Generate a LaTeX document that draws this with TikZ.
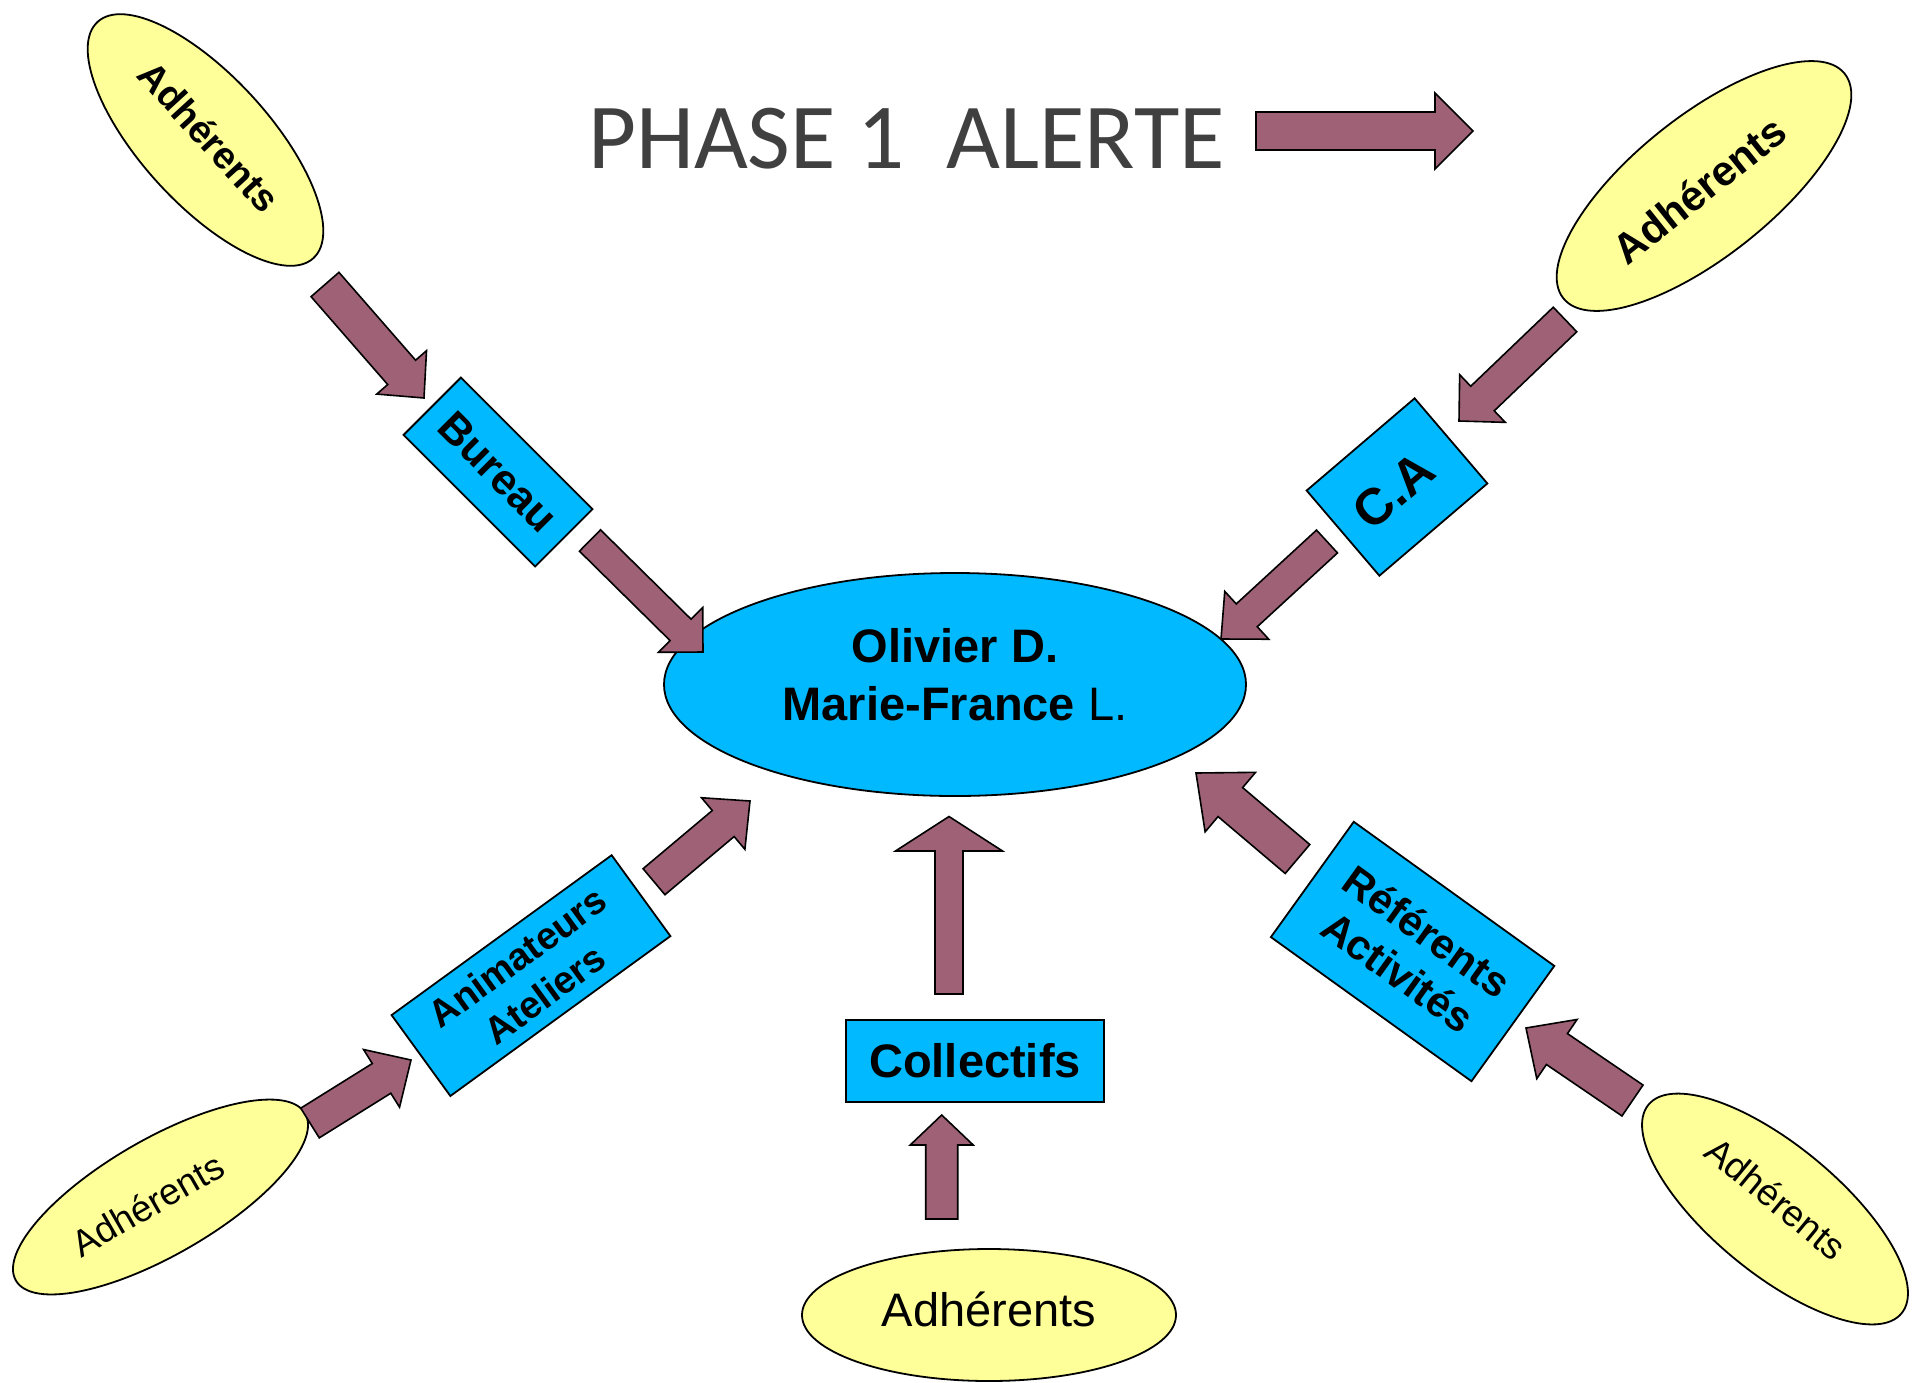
\documentclass[tikz,border=0pt]{standalone}
\usepackage{fontspec}
\setmainfont{Liberation Sans}
\newfontfamily\titlefont{Carlito}
\usetikzlibrary{shapes.geometric,calc}
\definecolor{arrowfill}{HTML}{9E6176}
\definecolor{boxblue}{HTML}{00B9FF}
\definecolor{adhyellow}{HTML}{FFFF99}
\definecolor{titlegray}{HTML}{404040}
\tikzset{
  adh/.style={ellipse, draw=black, line width=1.8pt, fill=adhyellow, inner sep=0pt},
  bluebox/.style={rectangle, draw=black, line width=1.8pt, fill=boxblue, inner sep=0pt, align=center},
  blockarrow/.style={draw=black, line width=1.6pt, fill=arrowfill, line join=miter},
}
% #1 tail, #2 tip, #3 shaft half width, #4 head half width, #5 head length
\newcommand{\blockarr}[5]{%
  \draw[blockarrow] ($(#1)!#3!90:(#2)$)
    -- ($(#2)!#5!(#1)!#3!90:(#2)$)
    -- ($(#2)!#5!(#1)!#4!90:(#2)$)
    -- (#2)
    -- ($(#2)!#5!(#1)!#4!-90:(#2)$)
    -- ($(#2)!#5!(#1)!#3!-90:(#2)$)
    -- ($(#1)!#3!-90:(#2)$) -- cycle;}
\begin{document}
\begin{tikzpicture}[x=1pt,y=-1pt]
\fill[white] (0,0) rectangle (1920,1382);
\useasboundingbox (0,0) rectangle (1920,1382);

% title
\node[anchor=base, text=titlegray, inner sep=0pt, font=\titlefont\fontsize{93}{112}\selectfont] (title) at (906.5,168) {PHASE 1~ ALERTE};

% centre
\node[ellipse, draw=black, line width=1.8pt, fill=boxblue, inner sep=0pt,
      minimum width=582pt, minimum height=223pt, align=center,
      font=\fontsize{47}{58}\selectfont] (leaders) at (955,684.5)
      {\textbf{Olivier D.}\\\textbf{Marie-France} L.\rule[-20pt]{0pt}{0pt}};

% adherents
\node[adh, minimum width=320pt, minimum height=128pt, rotate=-47.6,
      font=\bfseries\fontsize{38}{46}\selectfont] (adhTL) at (205.5,140) {Adhérents\rule[-10pt]{0pt}{0pt}};
\node[adh, minimum width=360pt, minimum height=140pt, rotate=38.6,
      font=\bfseries\fontsize{42}{50}\selectfont] (adhTR) at (1704,186) {Adhérents\hspace*{12pt}};
\node[adh, minimum width=334pt, minimum height=116pt, rotate=30,
      font=\fontsize{37}{44}\selectfont] (adhBL) at (160.5,1197) {Adhérents\hspace*{30pt}};
\node[adh, minimum width=328pt, minimum height=128pt, rotate=-39.5,
      font=\fontsize{37}{44}\selectfont] (adhBR) at (1775,1209) {Adhérents\hspace*{12pt}\rule[-18pt]{0pt}{0pt}};
\node[adh, minimum width=374pt, minimum height=132pt,
      font=\fontsize{47}{56}\selectfont] (adhB) at (989,1315) {Adhérents\rule[-12pt]{0pt}{0pt}};

% blue boxes
\node[bluebox, minimum width=186pt, minimum height=81pt, rotate=-45,
      font=\bfseries\fontsize{43}{52}\selectfont] (bureau) at (498,472) {Bureau};
\node[bluebox, minimum width=142pt, minimum height=112pt, rotate=40.5,
      font=\bfseries\fontsize{51}{60}\selectfont] (ca) at (1397,487) {C.A\hspace*{10pt}};
\node[bluebox, minimum width=272pt, minimum height=100pt, rotate=36,
      font=\bfseries\fontsize{38}{46}\selectfont] (anim) at (531,975.6) {Animateurs\\Ateliers};
\node[bluebox, minimum width=247pt, minimum height=142pt, rotate=-35.7,
      font=\bfseries\fontsize{42}{50}\selectfont] (ref) at (1412.6,951.5) {Référents\\Activités};
\node[bluebox, minimum width=258pt, minimum height=82pt,
      font=\bfseries\fontsize{47}{56}\selectfont] (coll) at (975,1061) {Collectifs};

% arrow end points
\coordinate (adhTL-out) at (325,284.5);   \coordinate (bureau-in) at (424,398);
\coordinate (bureau-out) at (590,540.5);  \coordinate (leaders-inTL) at (703,652);
\coordinate (adhTR-out) at (1565,319.5);  \coordinate (ca-in) at (1459,421);
\coordinate (ca-out) at (1327,541.5);     \coordinate (leaders-inTR) at (1221,639);
\coordinate (anim-out) at (654,881.7);    \coordinate (leaders-inBL) at (750,801);
\coordinate (adhBL-out) at (310,1123);    \coordinate (anim-in) at (411,1060);
\coordinate (ref-out) at (1297.5,859);    \coordinate (leaders-inBR) at (1196,773);
\coordinate (adhBR-out) at (1632.5,1100.5); \coordinate (ref-in) at (1526,1028);
\coordinate (coll-out) at (949,994);      \coordinate (leaders-inB) at (949,816.5);
\coordinate (adhB-out) at (941.7,1219);   \coordinate (coll-in) at (941.7,1115);
\coordinate (title-out) at (1256,131);    \coordinate (title-tip) at (1473,131);

\blockarr{adhTL-out}{bureau-in}{18.5pt}{33pt}{34pt}
\blockarr{bureau-out}{leaders-inTL}{15pt}{31.5pt}{31.5pt}
\blockarr{adhTR-out}{ca-in}{17pt}{33pt}{32.5pt}
\blockarr{ca-out}{leaders-inTR}{15.5pt}{32.5pt}{35pt}
\blockarr{anim-out}{leaders-inBL}{17pt}{33.7pt}{35pt}
\blockarr{adhBL-out}{anim-in}{17.5pt}{34pt}{34.7pt}
\blockarr{ref-out}{leaders-inBR}{19pt}{39pt}{45pt}
\blockarr{adhBR-out}{ref-in}{18.7pt}{35.8pt}{37.4pt}
\blockarr{coll-out}{leaders-inB}{14pt}{53.5pt}{34.5pt}
\blockarr{adhB-out}{coll-in}{16pt}{31.5pt}{30pt}
\blockarr{title-out}{title-tip}{19pt}{38pt}{38pt}
\end{tikzpicture}
\end{document}
